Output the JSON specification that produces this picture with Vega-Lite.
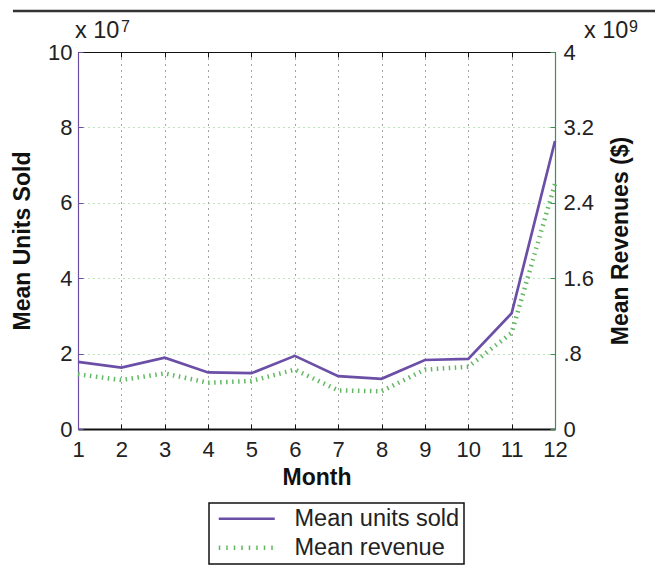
{
  "$schema": "https://vega.github.io/schema/vega-lite/v6.json",
  "width": 477,
  "height": 377,
  "autosize": {"type": "none"},
  "padding": {"left": 78, "top": 52, "right": 100, "bottom": 142},
  "background": "white",
  "config": {
    "view": {"stroke": null},
    "font": "Liberation Sans",
    "axis": {"labelFont": "Liberation Sans", "titleFont": "Liberation Sans", "labelColor": "#222", "titleColor": "#111"},
    "legend": {"labelFont": "Liberation Sans"}
  },
  "data": {
    "values": [
      {"month": 1, "units": 17800000, "revenue": 580000000},
      {"month": 2, "units": 16300000, "revenue": 520000000},
      {"month": 3, "units": 18900000, "revenue": 590000000},
      {"month": 4, "units": 15000000, "revenue": 490000000},
      {"month": 5, "units": 14800000, "revenue": 510000000},
      {"month": 6, "units": 19400000, "revenue": 630000000},
      {"month": 7, "units": 14000000, "revenue": 410000000},
      {"month": 8, "units": 13300000, "revenue": 400000000},
      {"month": 9, "units": 18300000, "revenue": 630000000},
      {"month": 10, "units": 18600000, "revenue": 660000000},
      {"month": 11, "units": 30700000, "revenue": 1020000000},
      {"month": 12, "units": 76400000, "revenue": 2600000000}
    ]
  },
  "layer": [
    {
      "layer": [
        {
          "mark": {"type": "line", "strokeWidth": 2.7},
          "encoding": {
            "x": {
              "field": "month", "type": "quantitative",
              "scale": {"domain": [1, 12], "nice": false},
              "axis": {
                "orient": "bottom", "values": [1,2,3,4,5,6,7,8,9,10,11,12], "format": "d",
                "title": "Month", "titleFontSize": 23, "titleFontWeight": "bold", "titlePadding": 6,
                "labelFontSize": 22, "labelPadding": 15, "tickSize": -5, "tickColor": "#111",
                "domainColor": "#111", "domainWidth": 2, "labelFlush": false,
                "grid": true, "gridColor": "#333", "gridDash": [1, 5], "gridOpacity": 0.9
              }
            },
            "y": {
              "field": "units", "type": "quantitative",
              "scale": {"domain": [0, 100000000], "nice": false},
              "axis": {
                "orient": "left", "values": [0, 20000000, 40000000, 60000000, 80000000, 100000000],
                "labelExpr": "format(datum.value / 10000000, 'd')",
                "title": "Mean Units Sold", "titleFontSize": 23, "titleFontWeight": "bold", "titlePadding": 13,
                "labelFontSize": 22, "labelPadding": 11, "tickSize": -5, "tickColor": "#6b4fa6",
                "domainColor": "#6b4fa6", "domainWidth": 1.2,
                "grid": true, "gridColor": "#7acc7a", "gridDash": [1, 4], "gridWidth": 1.2
              }
            },
            "color": {
              "datum": "Mean units sold",
              "scale": {"domain": ["Mean units sold", "Mean revenue"], "range": ["#6b4fa6", "#62b862"]},
              "legend": {
                "orient": "none", "legendX": 131, "legendY": 451, "title": null, "direction": "vertical",
                "symbolType": "stroke", "symbolSize": 3136, "symbolStrokeWidth": 2.7, "symbolOffset": 22,
                "labelFontSize": 23.5, "labelOffset": 36, "labelColor": "#222", "labelLimit": 400,
                "strokeColor": "#111", "fillColor": "white", "padding": 4, "rowPadding": 4,
                "encode": {
                  "legend": {"update": {"strokeWidth": {"value": 1.5}}},
                  "symbols": {
                    "update": {
                      "strokeDash": {"signal": "datum.value === 'Mean revenue' ? [1.5, 6] : [1, 0]"},
                      "strokeWidth": {"signal": "datum.value === 'Mean revenue' ? 4.5 : 2.7"}
                    }
                  }
                }
              }
            }
          }
        },
        {
          "data": {"values": [{"t": "x 10"}]},
          "mark": {"type": "text", "align": "left", "baseline": "alphabetic", "fontSize": 23.5, "dx": -3, "dy": -14, "color": "#222"},
          "encoding": {
            "x": {"datum": 1, "type": "quantitative"},
            "y": {"datum": 100000000, "type": "quantitative"},
            "text": {"field": "t"}
          }
        },
        {
          "data": {"values": [{"t": "7"}]},
          "mark": {"type": "text", "align": "left", "baseline": "alphabetic", "fontSize": 16, "dx": 43, "dy": -20, "color": "#222"},
          "encoding": {
            "x": {"datum": 1, "type": "quantitative"},
            "y": {"datum": 100000000, "type": "quantitative"},
            "text": {"field": "t"}
          }
        },
        {
          "data": {"values": [{"t": "rule"}]},
          "mark": {"type": "rule", "color": "#333", "strokeWidth": 2.5},
          "encoding": {
            "x": {"datum": -0.5, "type": "quantitative"},
            "x2": {"datum": 14.4},
            "y": {"datum": 110900000, "type": "quantitative"}
          }
        }
      ]
    },
    {
      "layer": [
        {
          "mark": {"type": "line", "strokeWidth": 4.5, "strokeDash": [1.5, 4.5], "strokeCap": "butt"},
          "encoding": {
            "x": {
              "field": "month", "type": "quantitative",
              "axis": {
                "orient": "top", "values": [1,2,3,4,5,6,7,8,9,10,11,12], "labels": false, "title": null,
                "tickSize": -5, "tickColor": "#111", "domainColor": "#111", "domainWidth": 1.2, "grid": false
              }
            },
            "y": {
              "field": "revenue", "type": "quantitative",
              "scale": {"domain": [0, 4000000000], "nice": false},
              "axis": {
                "orient": "right", "values": [0, 800000000, 1600000000, 2400000000, 3200000000, 4000000000],
                "labelExpr": "datum.value == 800000000 ? '.8' : format(datum.value / 1000000000, '.2~g')",
                "title": "Mean Revenues ($)", "titleFontSize": 23, "titleFontWeight": "bold", "titlePadding": 39,
                "titleAngle": 270,
                "labelFontSize": 22, "labelPadding": 13, "tickSize": -5, "tickColor": "#3f8f4f",
                "domainColor": "#3f8f4f", "domainWidth": 1.2, "grid": false
              }
            },
            "color": {"datum": "Mean revenue"}
          }
        },
        {
          "data": {"values": [{"t": "x 10"}]},
          "mark": {"type": "text", "align": "left", "baseline": "alphabetic", "fontSize": 23.5, "dx": 29, "dy": -14, "color": "#222"},
          "encoding": {
            "x": {"datum": 12, "type": "quantitative"},
            "y": {"datum": 4000000000, "type": "quantitative"},
            "text": {"field": "t"}
          }
        },
        {
          "data": {"values": [{"t": "9"}]},
          "mark": {"type": "text", "align": "left", "baseline": "alphabetic", "fontSize": 16, "dx": 74, "dy": -20, "color": "#222"},
          "encoding": {
            "x": {"datum": 12, "type": "quantitative"},
            "y": {"datum": 4000000000, "type": "quantitative"},
            "text": {"field": "t"}
          }
        }
      ]
    }
  ],
  "resolve": {"scale": {"y": "independent"}, "axis": {"x": "independent", "y": "independent"}}
}
